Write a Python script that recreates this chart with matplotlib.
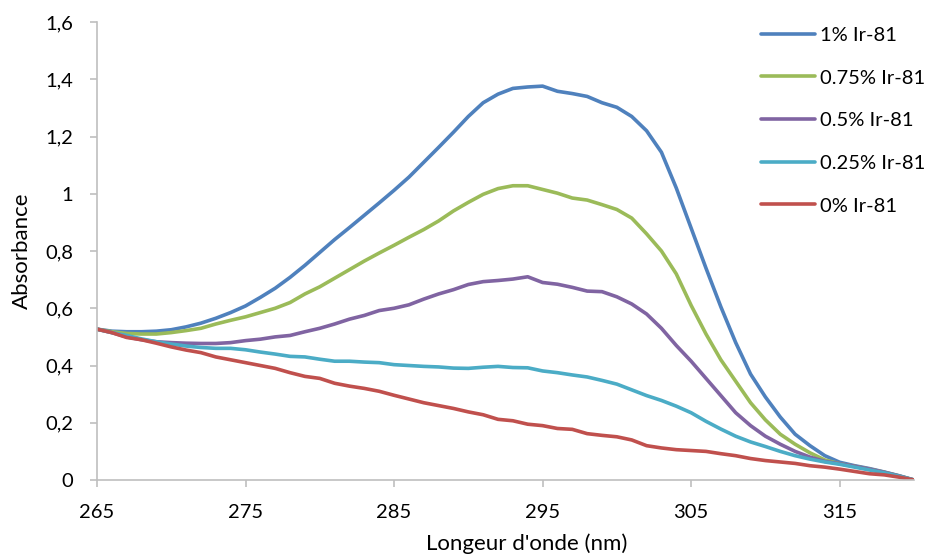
import matplotlib.pyplot as plt
from matplotlib.ticker import FuncFormatter

# Data (1 nm steps)
wavelength = list(range(265, 321))

ir_1 = [0.527, 0.520, 0.518, 0.518, 0.520, 0.525, 0.535, 0.548, 0.565, 0.585,
        0.608, 0.638, 0.670, 0.708, 0.750, 0.795, 0.840, 0.882, 0.925, 0.968,
        1.012, 1.058, 1.110, 1.162, 1.215, 1.270, 1.318, 1.348, 1.368, 1.373,
        1.376, 1.358, 1.350, 1.340, 1.318, 1.302, 1.270, 1.220, 1.145, 1.020,
        0.880, 0.740, 0.605, 0.480, 0.370, 0.290, 0.220, 0.160, 0.120, 0.085,
        0.062, 0.050, 0.040, 0.028, 0.015, 0.000]

ir_075 = [0.527, 0.518, 0.512, 0.510, 0.510, 0.515, 0.522, 0.530, 0.545, 0.558,
          0.570, 0.585, 0.600, 0.620, 0.650, 0.675, 0.705, 0.735, 0.765, 0.793,
          0.820, 0.848, 0.875, 0.905, 0.940, 0.970, 0.998, 1.018, 1.028, 1.028,
          1.015, 1.002, 0.985, 0.978, 0.962, 0.945, 0.915, 0.860, 0.800, 0.720,
          0.610, 0.510, 0.420, 0.345, 0.270, 0.210, 0.160, 0.125, 0.095, 0.070,
          0.057, 0.048, 0.038, 0.027, 0.014, 0.000]

ir_05 = [0.527, 0.515, 0.500, 0.490, 0.483, 0.480, 0.478, 0.477, 0.477, 0.480,
         0.487, 0.492, 0.500, 0.505, 0.518, 0.530, 0.545, 0.562, 0.575, 0.592,
         0.600, 0.612, 0.632, 0.650, 0.665, 0.683, 0.693, 0.697, 0.702, 0.710,
         0.690, 0.684, 0.673, 0.660, 0.658, 0.640, 0.615, 0.580, 0.530, 0.470,
         0.415, 0.355, 0.295, 0.235, 0.190, 0.153, 0.125, 0.100, 0.080, 0.065,
         0.057, 0.048, 0.038, 0.027, 0.014, 0.000]

ir_025 = [0.527, 0.515, 0.505, 0.493, 0.483, 0.475, 0.468, 0.463, 0.460, 0.460,
          0.455, 0.447, 0.440, 0.432, 0.430, 0.422, 0.415, 0.415, 0.412, 0.410,
          0.403, 0.400, 0.397, 0.395, 0.391, 0.390, 0.394, 0.397, 0.393, 0.392,
          0.381, 0.375, 0.367, 0.360, 0.348, 0.335, 0.315, 0.295, 0.278, 0.258,
          0.235, 0.205, 0.178, 0.153, 0.133, 0.117, 0.100, 0.085, 0.073, 0.063,
          0.055, 0.045, 0.035, 0.025, 0.013, 0.000]

ir_0 = [0.527, 0.515, 0.498, 0.490, 0.478, 0.465, 0.454, 0.445, 0.430, 0.420,
        0.410, 0.400, 0.390, 0.375, 0.362, 0.355, 0.338, 0.328, 0.320, 0.310,
        0.296, 0.283, 0.270, 0.260, 0.250, 0.238, 0.228, 0.212, 0.207, 0.195,
        0.190, 0.180, 0.177, 0.162, 0.156, 0.151, 0.140, 0.120, 0.112, 0.106,
        0.103, 0.100, 0.092, 0.085, 0.075, 0.068, 0.063, 0.058, 0.050, 0.045,
        0.038, 0.030, 0.022, 0.018, 0.010, 0.000]

labels = ['1% Ir-81', '0.75% Ir-81', '0.5% Ir-81', '0.25% Ir-81', '0% Ir-81']
colors = ['#4F81BD', '#9BBB59', '#8064A2', '#4BACC6', '#C0504D']

plt.rcParams['font.family'] = ['Lato', 'DejaVu Sans']

fig = plt.figure(figsize=(9.35, 5.57), dpi=100)
ax = fig.add_axes([0.1037, 0.1382, 0.8738, 0.8223])

for ys, lab, c in zip([ir_1, ir_075, ir_05, ir_025, ir_0], labels, colors):
    ax.plot(wavelength, ys, color=c, lw=2.6, label=lab, solid_capstyle='round')

ax.set_xlim(265, 320)
ax.set_ylim(0, 1.6)
ax.set_xticks(range(265, 320, 10))
ax.set_yticks([0, 0.2, 0.4, 0.6, 0.8, 1.0, 1.2, 1.4, 1.6])
ax.yaxis.set_major_formatter(FuncFormatter(lambda v, p: ('%g' % round(v, 1)).replace('.', ',')))

for s in ['top', 'right']:
    ax.spines[s].set_visible(False)
for s in ['left', 'bottom']:
    ax.spines[s].set_color('#BFBFBF')
    ax.spines[s].set_linewidth(1.2)
ax.tick_params(axis='both', colors='#BFBFBF', length=5, width=1.2, labelcolor='black', labelsize=14.5)
ax.tick_params(axis='y', pad=12)
ax.tick_params(axis='x', pad=12)

ax.set_xlabel("Longeur d'onde (nm)", fontsize=16)
ax.set_ylabel('Absorbance', fontsize=16)
ax.xaxis.set_label_coords(0.526, -0.117)
ax.yaxis.set_label_coords(-0.08, 0.5)

fig.legend(loc='upper left', bbox_to_anchor=(0.814, 0.952), frameon=False,
           fontsize=14.5, handlelength=2.7, handletextpad=0.25, labelspacing=1.27,
           borderpad=0, borderaxespad=0)

fig.savefig('out.png', dpi=100)
